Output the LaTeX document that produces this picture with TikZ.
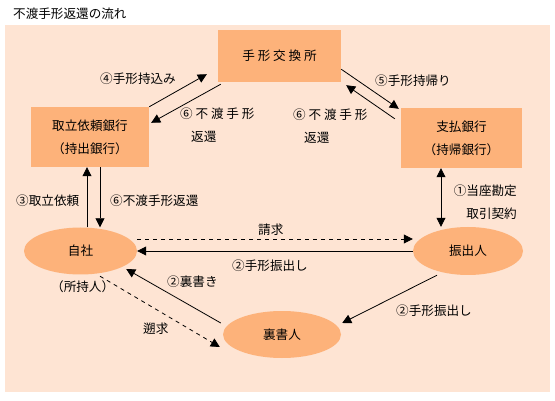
\documentclass[tikz,border=0pt]{standalone}
\usepackage{fontspec}
\setmainfont{Noto Sans CJK JP}
\usetikzlibrary{arrows.meta,shapes.geometric,positioning}
\definecolor{flowbg}{RGB}{254,228,211}
\definecolor{flowbox}{RGB}{253,178,122}

\begin{document}
\begin{tikzpicture}[x=1pt,y=-1pt,font=\fontsize{12.6}{23}\selectfont,
  >={Triangle[length=9pt,width=9pt]},
  bankbox/.style={fill=flowbox,inner sep=0pt,align=center},
  party/.style={ellipse,fill=flowbox,inner sep=0pt},
  arr/.style={->,line width=0.8pt},
  dasharr/.style={arr,dash pattern=on 4pt off 4pt},
  lbl/.style={anchor=west,inner sep=0pt}]
  \useasboundingbox (0,0) rectangle (555,401);
  \fill[flowbg] (5,25) rectangle (550,392);
  \node[lbl] (title) at (13,14) {不渡手形返還の流れ};

  \node[bankbox,minimum width=123pt,minimum height=52pt] (kokan) at (279.5,56) {手 形 交 換 所};
  \node[bankbox,minimum width=118pt,minimum height=60pt] (toritate) at (90,137) {取立依頼銀行\\（持出銀行）};
  \node[bankbox,minimum width=121pt,minimum height=60pt] (shiharai) at (461.5,138) {支払銀行\\（持帰銀行）};
  \node[party,minimum width=113pt,minimum height=47pt] (jisha) at (80.5,251) {自社};
  \node[party,minimum width=110pt,minimum height=48pt] (furidashi) at (468,251) {振出人};
  \node[party,minimum width=118pt,minimum height=47pt] (uragaki) at (282,334.5) {裏書人};

  \draw[arr] (toritate.north east) -- ([shift={(-11,-8)}]kokan.south west);
  \draw[arr] ([shift={(3,2)}]kokan.south west) -- ([shift={(2,16)}]toritate.north east);
  \draw[arr] ([shift={(0,-13)}]kokan.south east) -- ([shift={(-2,1)}]shiharai.north west);
  \draw[arr] ([shift={(-6,11)}]shiharai.north west) -- ([shift={(5,3)}]kokan.south east);
  \draw[arr] ([xshift=6.5]jisha.north) -- ([xshift=-3]toritate.south);
  \draw[arr] ([xshift=10]toritate.south) -- ([xshift=19.5]jisha.north);
  \draw[arr,<->] ([xshift=-20.5]shiharai.south) -- ([xshift=-27]furidashi.north);
  \draw[dasharr] ([shift={(0,-12)}]jisha.east) -- ([shift={(0,-12)}]furidashi.west);
  \draw[arr] (furidashi.west) -- (jisha.east);
  \draw[arr] ([shift={(-2,-11.5)}]uragaki.west) -- ([shift={(-11,18)}]jisha.east);
  \draw[dasharr] ([shift={(19.5,1.5)}]jisha.south) -- ([shift={(-3,12.5)}]uragaki.west);
  \draw[arr] ([xshift=-31]furidashi.south) -- ([shift={(1,-11.5)}]uragaki.east);

  \node[lbl] (l4) at (100,79) {④手形持込み};
  \node[lbl,align=left] (l6a) at (180,125.5) {⑥ 不 渡 手 形\\\hspace{11pt}返還};
  \node[lbl] (l5) at (375,81) {⑤手形持帰り};
  \node[lbl,align=left] (l6b) at (293,126.5) {⑥ 不 渡 手 形\\\hspace{11pt}返還};
  \node[anchor=east,inner sep=0pt,align=right] (l1) at (517,202.5) {①当座勘定\\取引契約};
  \node[lbl] (l3) at (16,201) {③取立依頼};
  \node[lbl] (l6c) at (110,201) {⑥不渡手形返還};
  \node[lbl] (lseikyu) at (258,230) {請求};
  \node[lbl] (l2a) at (232,266) {②手形振出し};
  \node[lbl] (lshoji) at (51,287) {（所持人）};
  \node[lbl] (l2b) at (167,282) {②裏書き};
  \node[lbl] (lsokyu) at (143,329) {遡求};
  \node[lbl] (l2c) at (396,311) {②手形振出し};
\end{tikzpicture}
\end{document}
